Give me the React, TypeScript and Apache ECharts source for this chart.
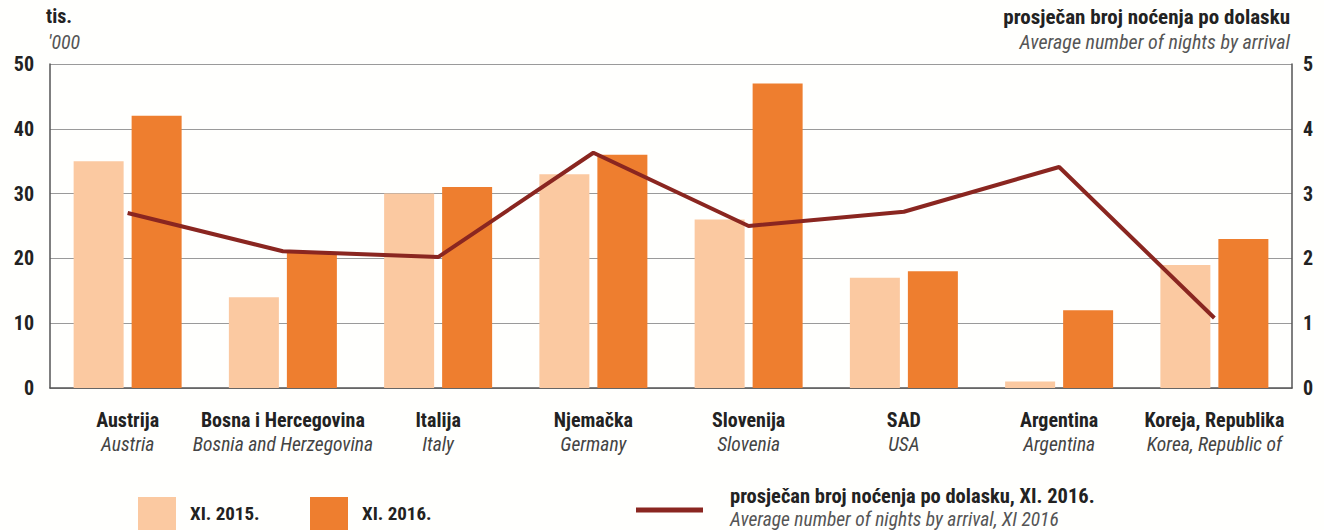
import React, { useEffect, useRef } from "react";
import * as echarts from "echarts";

const categoriesHr = ["Austrija", "Bosna i Hercegovina", "Italija", "Njemačka", "Slovenija", "SAD", "Argentina", "Koreja, Republika"];
const categoriesEn = ["Austria", "Bosnia and Herzegovina", "Italy", "Germany", "Slovenia", "USA", "Argentina", "Korea, Republic of"];
const values2015 = [35, 14, 30, 33, 26, 17, 1, 19];
const values2016 = [42, 21, 31, 36, 47, 18, 12, 23];
const avgNights2016 = [2.7, 2.11, 2.02, 3.63, 2.5, 2.72, 3.41, 1.08];
const leftTicks = { min: 0, max: 50, interval: 10 };
const rightTicks = { min: 0, max: 5, interval: 1 };

const FONT = "'Liberation Sans Narrow', 'Roboto Condensed', Roboto, 'Liberation Sans', Arial, sans-serif";
const LIGHT = "#FBC9A1";
const DARK = "#EE7E2F";
const LINE = "#8A2620";

export default function App() {
  const ref = useRef<HTMLDivElement>(null);
  useEffect(() => {
    if (!ref.current) return;
    const chart = echarts.init(ref.current, undefined, { renderer: "svg" });
    const catLabels = categoriesHr.map((c, i) => c + "\n" + categoriesEn[i]);
    chart.setOption({
      animation: false,
      backgroundColor: "#FFFFFD",
      textStyle: { fontFamily: FONT },
      grid: { left: 50, right: 32, top: 64, bottom: 142, containLabel: false },
      xAxis: {
        type: "category",
        data: catLabels,
        axisLine: { show: true, lineStyle: { color: "#555", width: 1.5 } },
        axisTick: { show: false },
        axisLabel: {
          interval: 0,
          margin: 19,
          formatter: (v: string) => {
            const [a, b] = v.split("\n");
            return "{b|" + a + "}\n{i|" + b + "}";
          },
          rich: {
            b: { fontFamily: FONT, fontSize: 20, fontWeight: "bold", color: "#222", lineHeight: 25 },
            i: { fontFamily: FONT, fontSize: 19.5, fontStyle: "italic", color: "#444", lineHeight: 25 },
          },
        },
      },
      yAxis: [
        {
          type: "value",
          min: leftTicks.min,
          max: leftTicks.max,
          interval: leftTicks.interval,
          axisLine: { show: true, lineStyle: { color: "#555", width: 1.5 } },
          axisTick: { show: false },
          splitLine: { show: true, lineStyle: { color: "#9a9a9a", width: 1.2 } },
          axisLabel: { fontFamily: FONT, fontSize: 20, fontWeight: "bold", color: "#222", margin: 16 },
        },
        {
          type: "value",
          min: rightTicks.min,
          max: rightTicks.max,
          interval: rightTicks.interval,
          position: "right",
          axisLine: { show: true, lineStyle: { color: "#555", width: 1.5 } },
          axisTick: { show: false },
          splitLine: { show: false },
          axisLabel: { fontFamily: FONT, fontSize: 20, fontWeight: "bold", color: "#222", margin: 11 },
        },
      ],
      series: [
        {
          name: "XI. 2015.",
          type: "bar",
          data: values2015,
          barWidth: 50,
          barGap: "16%",
          itemStyle: { color: LIGHT },
        },
        {
          name: "XI. 2016.",
          type: "bar",
          data: values2016,
          barWidth: 50,
          barGap: "16%",
          itemStyle: { color: DARK },
        },
        {
          name: "prosječan broj noćenja po dolasku, XI. 2016.",
          type: "line",
          yAxisIndex: 1,
          data: avgNights2016,
          symbol: "none",
          lineStyle: { color: LINE, width: 4 },
          z: 5,
        },
      ],
      graphic: [
        { type: "text", left: 46, top: 6, style: { text: "tis.", font: "bold 20px " + FONT, fill: "#222" } },
        { type: "text", left: 48, top: 32, style: { text: "'000", font: "italic 20px " + FONT, fill: "#555" } },
        { type: "text", right: 34, top: 6, style: { text: "prosječan broj noćenja po dolasku", font: "bold 21px " + FONT, fill: "#222" } },
        { type: "text", right: 34, top: 32, style: { text: "Average number of nights by arrival", font: "italic 20px " + FONT, fill: "#555" } },
        { type: "rect", shape: { x: 138, y: 497, width: 38, height: 33 }, style: { fill: LIGHT } },
        { type: "text", left: 190, top: 504, style: { text: "XI. 2015.", font: "bold 19px " + FONT, fill: "#222" } },
        { type: "rect", shape: { x: 310, y: 497, width: 38, height: 33 }, style: { fill: DARK } },
        { type: "text", left: 362, top: 504, style: { text: "XI. 2016.", font: "bold 19px " + FONT, fill: "#222" } },
        { type: "line", shape: { x1: 636, y1: 510, x2: 703, y2: 510 }, style: { stroke: LINE, lineWidth: 5 } },
        { type: "text", left: 730, top: 485, style: { text: "prosječan broj noćenja po dolasku, XI. 2016.", font: "bold 20.5px " + FONT, fill: "#222" } },
        { type: "text", left: 730, top: 509, style: { text: "Average number of nights by arrival, XI 2016", font: "italic 19.5px " + FONT, fill: "#555" } },
      ],
    });
    return () => chart.dispose();
  }, []);
  return <div ref={ref} style={{ position: "fixed", left: 0, top: 0, width: 1324, height: 530 }} />;
}
